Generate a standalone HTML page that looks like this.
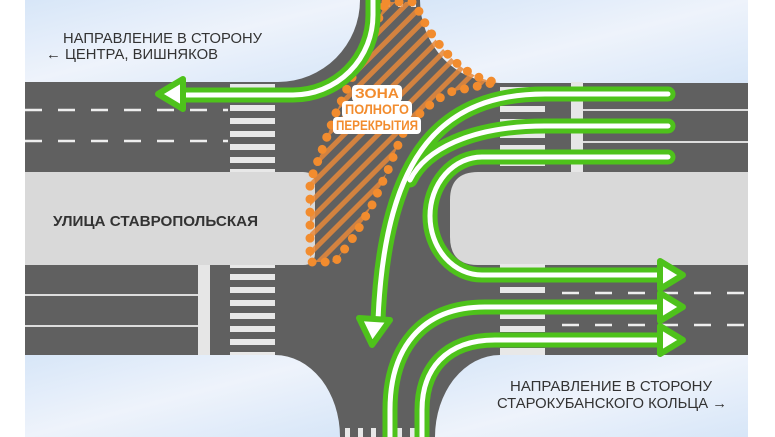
<!DOCTYPE html>
<html><head><meta charset="utf-8"><style>
html,body{margin:0;padding:0;background:#fff;}
svg{display:block;}
text{font-family:"Liberation Sans",sans-serif;}
</style></head><body>
<svg width="775" height="437" viewBox="0 0 775 437" xmlns="http://www.w3.org/2000/svg">
<defs>
<linearGradient id="bg" x1="0" y1="0" x2="1" y2="1">
<stop offset="0" stop-color="#d7e6f8"/><stop offset="0.5" stop-color="#eef3fb"/><stop offset="1" stop-color="#d7e6f8"/>
</linearGradient>
<pattern id="hatch" width="12" height="12" patternUnits="userSpaceOnUse" patternTransform="rotate(45)">
<rect x="0" y="0" width="5" height="12" fill="#e8883a" opacity="0.85"/>
</pattern>
</defs>
<rect x="0" y="0" width="775" height="437" fill="#fff"/>
<rect x="25" y="0" width="723" height="437" fill="#606060"/>
<path d="M25,0 H360 A82,82 0 0 1 278,82 H25 Z" fill="url(#bg)"/>
<path d="M420,0 A80,83 0 0 0 500,83 H748 V0 Z" fill="url(#bg)"/>
<path d="M25,355 H275 A65,82 0 0 1 340,437 H25 Z" fill="url(#bg)"/>
<path d="M748,355 H500 A65,82 0 0 0 435,437 H748 Z" fill="url(#bg)"/>
<path d="M25,172 H303 Q315,172 315,184 V253 Q315,265 303,265 H25 Z" fill="#d9d9d9"/>
<path d="M748,172 H478 Q450,172 450,200 V237 Q450,265 478,265 H748 Z" fill="#d9d9d9"/>
<g stroke="#eee" stroke-width="2.5" stroke-dasharray="17 16">
<line x1="25" y1="110" x2="228" y2="110"/><line x1="25" y1="141" x2="228" y2="141"/>
<line x1="562" y1="293" x2="748" y2="293"/><line x1="562" y1="325" x2="748" y2="325"/>
</g>
<g stroke="#ddd" stroke-width="2">
<line x1="25" y1="295" x2="198" y2="295"/><line x1="25" y1="326" x2="198" y2="326"/>
<line x1="583" y1="110" x2="748" y2="110"/><line x1="583" y1="142" x2="748" y2="142"/>
</g>
<rect x="198" y="265" width="12" height="90" fill="#e6e6e6"/>
<rect x="571" y="82" width="12" height="90" fill="#e6e6e6"/>
<g fill="#e8e8e8">
<rect x="230" y="84" width="45" height="4"/><rect x="230" y="105" width="45" height="6"/><rect x="230" y="118" width="45" height="6"/><rect x="230" y="131" width="45" height="6"/><rect x="230" y="144" width="45" height="6"/><rect x="230" y="157" width="45" height="6"/><rect x="230" y="169" width="45" height="3"/>
<rect x="230" y="265" width="45" height="3"/><rect x="230" y="274" width="45" height="6"/><rect x="230" y="287" width="45" height="6"/><rect x="230" y="300" width="45" height="6"/><rect x="230" y="313" width="45" height="6"/><rect x="230" y="326" width="45" height="6"/><rect x="230" y="339" width="45" height="6"/><rect x="230" y="352" width="45" height="3"/>
<rect x="500" y="87" width="45" height="6"/><rect x="500" y="106" width="45" height="6"/><rect x="500" y="119" width="45" height="6"/><rect x="500" y="132" width="45" height="6"/><rect x="500" y="145" width="45" height="6"/><rect x="500" y="160" width="45" height="6"/>
<rect x="500" y="264" width="45" height="5"/><rect x="500" y="287" width="45" height="6"/><rect x="500" y="300" width="45" height="6"/><rect x="500" y="313" width="45" height="6"/><rect x="500" y="326" width="45" height="6"/><rect x="500" y="348" width="45" height="7"/>
<rect x="345" y="428" width="5" height="9"/><rect x="358" y="428" width="5" height="9"/><rect x="371" y="428" width="5" height="9"/><rect x="384" y="428" width="5" height="9"/><rect x="397" y="428" width="5" height="9"/><rect x="410" y="428" width="5" height="9"/><rect x="423" y="428" width="5" height="9"/>
<rect x="385" y="0" width="5" height="7"/><rect x="398" y="0" width="5" height="7"/><rect x="411" y="0" width="5" height="7"/>
</g>
<path d="M386,2 L415,2 Q430,40 460,66 Q478,80 497,82 L450,92 Q420,108 402,135 L388,170 L372,205 L355,235 L335,262 L310,262 L310,182 L322,150 L335,115 L360,60 Z" fill="url(#hatch)" stroke="#f28c2e" stroke-width="9" stroke-linecap="round" stroke-dasharray="0 13"/>
<g fill="none" stroke-linecap="round" stroke-linejoin="round">
<g stroke="#4ec21b" stroke-width="15">
<path d="M373,-5 V15 A80,80 0 0 1 293,95 H180"/>
<path d="M668,94 H545 C445,94 385,150 378,320"/>
<path d="M668,126 H545 C470,126 425,150 410,180"/>
<path d="M668,157 H482 A52,59 0 0 0 482,275 H662"/>
<path d="M390,445 V410 C390,350 420,307 485,307 H662"/>
<path d="M422,445 V410 C422,370 445,340 495,340 H662"/>
</g>
<g stroke="#fff" stroke-width="5">
<path d="M373,-5 V15 A80,80 0 0 1 293,95 H180"/>
<path d="M668,94 H545 C445,94 385,150 378,320"/>
<path d="M668,126 H545 C470,126 425,150 410,180"/>
<path d="M668,157 H482 A52,59 0 0 0 482,275 H662"/>
<path d="M390,445 V410 C390,350 420,307 485,307 H662"/>
<path d="M422,445 V410 C422,370 445,340 495,340 H662"/>
</g>
<g fill="#fff" stroke="#4ec21b" stroke-width="6">
<path d="M158,94 L183,79 L183,109 Z"/>
<path d="M372,345 L359,318 L390,320 Z"/>
<path d="M683,275 L660,261 L660,289 Z"/>
<path d="M683,307 L660,293 L660,321 Z"/>
<path d="M683,340 L660,326 L660,354 Z"/>
</g>
</g>
<g fill="#fff">
<rect x="352" y="85" width="50" height="17" rx="4"/>
<rect x="342" y="101" width="70" height="17" rx="4"/>
<rect x="333" y="117" width="88" height="17" rx="4"/>
</g>
<g font-size="13.5" fill="#f28c2e" text-anchor="middle" font-weight="bold">
<text x="377" y="98" textLength="44" lengthAdjust="spacingAndGlyphs">ЗОНА</text>
<text x="377" y="114" textLength="64" lengthAdjust="spacingAndGlyphs">ПОЛНОГО</text>
<text x="377" y="130" textLength="82" lengthAdjust="spacingAndGlyphs">ПЕРЕКРЫТИЯ</text>
</g>
<g font-size="15" fill="#333">
<text x="63" y="43" textLength="199" lengthAdjust="spacingAndGlyphs">НАПРАВЛЕНИЕ В СТОРОНУ</text>
<text x="46" y="59" textLength="172" lengthAdjust="spacingAndGlyphs">← ЦЕНТРА, ВИШНЯКОВ</text>
<text x="53" y="226" font-weight="bold" textLength="205" lengthAdjust="spacingAndGlyphs">УЛИЦА СТАВРОПОЛЬСКАЯ</text>
<text x="510" y="391" textLength="202" lengthAdjust="spacingAndGlyphs">НАПРАВЛЕНИЕ В СТОРОНУ</text>
<text x="497" y="408" textLength="230" lengthAdjust="spacingAndGlyphs">СТАРОКУБАНСКОГО КОЛЬЦА →</text>
</g>
</svg>
</body></html>
